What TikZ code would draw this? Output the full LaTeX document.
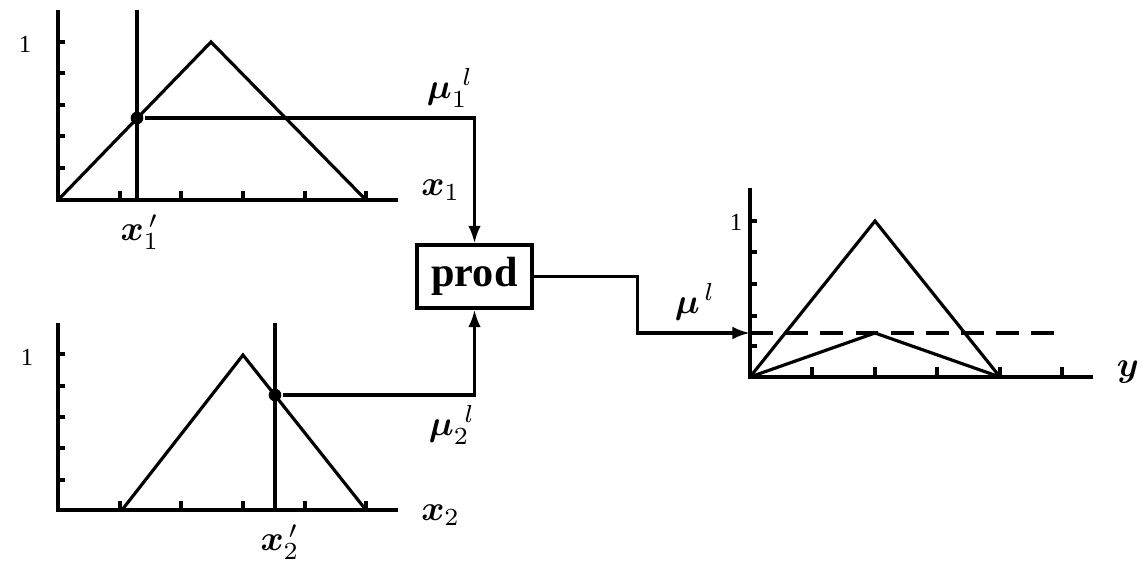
\documentclass[tikz,border=0pt]{standalone}
\usepackage{amsmath,bm}
\usepackage{fontspec}
\setmainfont{Liberation Serif}
\usetikzlibrary{arrows.meta}

\begin{document}
\begin{tikzpicture}[x=0.01cm, y=-0.01cm, line width=0.9pt,
        dot/.style={circle, fill, inner sep=0pt, minimum size=3.6pt},
        prodbox/.style={draw, minimum width=1.15cm, minimum height=0.63cm, inner sep=0pt,
            font=\fontsize{12}{14}\selectfont\bfseries},
        flow/.style={-{Latex[length=5pt,width=3.6pt]}},
        one/.style={font=\fontsize{7}{8}\selectfont}]
        \useasboundingbox (0,0) rectangle (1142,564);
        % first input
        \draw (58,10) -- (58,200) -- (398,200);
        \foreach \t in {42,73,105,136,168} \draw (58,\t) -- ++(7,0);
        \foreach \t in {120,181,243,305,366} \draw (\t,200) -- ++(0,-9);
        \draw (58,200) -- (211,42) -- (366,200);
        \draw (137,10) -- (137,200);
        \node[dot] (p1) at (137,118) {};
        \node[one] (one1) at (25,44) {1};
        \node[anchor=west] (x1) at (408,190) {$\bm{x}_1$};
        \node (x1l) at (140,232) {$\bm{x}_1^{\,\prime}$};
        % second input
        \draw (58,323) -- (58,510) -- (398,510);
        \foreach \t in {354,386,417,448,480} \draw (58,\t) -- ++(7,0);
        \foreach \t in {120,181,243,305,366} \draw (\t,510) -- ++(0,-9);
        \draw (122,510) -- (243,355) -- (366,510);
        \draw (275,323) -- (275,510);
        \node[dot] (p2) at (275,395) {};
        \node[one] (one2) at (27,357) {1};
        \node[anchor=west] (x2) at (408,515) {$\bm{x}_2$};
        \node (x2l) at (280,542) {$\bm{x}_2^{\,\prime}$};
        % product
        \node[prodbox] (prod) at (474.5,276.5) {prod};
        \draw[flow] (p1) -| (prod.north);
        \draw[flow] (p2) -| (prod.south);
        \node (mu1) at (450,88) {$\bm{\mu}_1^{\hspace{3pt}l}$};
        \node (mu2) at (452,425) {$\bm{\mu}_2^{\hspace{3pt}l}$};
        % output
        \coordinate (cut) at (750,333);
        \draw[flow] (prod.east) -- ++(104,0) |- (cut);
        \node (mu) at (695,302) {$\bm{\mu}^{\,l}$};
        \draw (750,188) -- (750,377) -- (1093,377);
        \foreach \t in {221,252,284,316,346} \draw (750,\t) -- ++(7,0);
        \foreach \t in {812,875,937,1000,1062} \draw (\t,377) -- ++(0,-10);
        \draw (750,377) -- (875,221) -- (1000,377);
        \draw (750,377) -- (875,333) -- (1000,377);
        \draw[dash pattern=on 6.5pt off 3.5pt] (cut) -- (1058,333);
        \node[one] (one3) at (736,222) {1};
        \node (y) at (1128,372) {$\bm{y}$};
\end{tikzpicture}
\end{document}
